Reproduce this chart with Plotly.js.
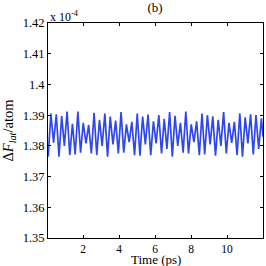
<!DOCTYPE html>
<html><head><meta charset="utf-8">
<script src="https://cdn.plot.ly/plotly-3.0.1.min.js"></script>
<style>html,body{margin:0;padding:0;background:#fff}#c{width:266px;height:266px}</style>
</head><body><div id="c"></div>
<script>
const time = [0.06,0.21,0.36,0.51,0.66,0.81,0.96,1.11,1.26,1.41,1.56,1.71,1.86,2.01,2.16,2.31,2.46,2.61,2.76,2.91,
3.06,3.21,3.36,3.51,3.66,3.81,3.96,4.11,4.26,4.41,4.56,4.71,4.86,5.01,5.16,5.31,5.46,5.61,5.76,5.91,
6.06,6.21,6.36,6.51,6.66,6.81,6.96,7.11,7.26,7.41,7.56,7.71,7.86,8.01,8.16,8.31,8.46,8.61,8.76,8.91,
9.06,9.21,9.36,9.51,9.66,9.81,9.96,10.11,10.26,10.41,10.56,10.71,10.86,11.01,11.16,11.31,11.46,11.61,11.76,11.91,12.0];
const dF = [1.3765,1.3905,1.3810,1.3903,1.3765,1.3897,1.3800,1.3912,1.3770,1.3872,1.3772,1.3912,1.3778,1.3875,1.3808,1.3868,1.3775,1.3908,1.3770,1.3885,
1.3800,1.3905,1.3765,1.3895,1.3805,1.3882,1.3775,1.3910,1.3778,1.3870,1.3812,1.3878,1.3770,1.3905,1.3768,1.3895,1.3805,1.3902,1.3770,1.3880,
1.3808,1.3900,1.3775,1.3888,1.3790,1.3910,1.3765,1.3898,1.3800,1.3875,1.3778,1.3912,1.3775,1.3870,1.3812,1.3880,1.3770,1.3905,1.3772,1.3900,
1.3805,1.3896,1.3768,1.3885,1.3800,1.3910,1.3775,1.3875,1.3810,1.3878,1.3770,1.3906,1.3765,1.3893,1.3808,1.3903,1.3772,1.3900,1.3790,1.3890,1.3830];
const xTicks = [2,4,6,8,10];
const yTicks = [1.35,1.36,1.37,1.38,1.39,1.4,1.41,1.42];
const yTickText = ["1.35","1.36","1.37","1.38","1.39","1.4","1.41","1.42"];
const font = "Liberation Serif, DejaVu Serif, serif";
Plotly.newPlot('c', [{
  x: time, y: dF, type: 'scatter', mode: 'lines',
  line: {color: '#2f47f2', width: 1.7}, hoverinfo: 'skip'
}], {
  width: 266, height: 266,
  margin: {l: 48, r: 3, t: 23, b: 28},
  paper_bgcolor: '#fff', plot_bgcolor: '#fff',
  showlegend: false,
  font: {family: font, size: 12.5, color: '#000'},
  title: {text: '(b)', x: 0.583, xanchor: 'center', y: 0.99, yanchor: 'top', font: {family: font, size: 13, color: '#000'}},
  xaxis: {range: [0.05, 12], tickvals: xTicks, ticks: 'inside', ticklen: 3, tickcolor: '#000',
    showline: true, mirror: 'ticks', linecolor: '#000', linewidth: 1, showgrid: false, zeroline: false,
    tickfont: {family: font, size: 11.5}},
  yaxis: {range: [1.35, 1.42], tickvals: yTicks, ticktext: yTickText, ticks: 'inside', ticklen: 3, tickcolor: '#000',
    showline: true, mirror: 'ticks', linecolor: '#000', linewidth: 1, showgrid: false, zeroline: false,
    tickfont: {family: font, size: 12.5}, title: {text: 'Δ<i>F</i><sub><i>lat</i></sub>/atom', standoff: 5, font: {family: font, size: 14.5}}},
  annotations: [
    {xref: 'paper', yref: 'paper', x: 0, y: 1, xanchor: 'left', yanchor: 'bottom',
     text: 'x 10<sup>-4</sup>', showarrow: false, font: {family: font, size: 12}, yshift: -3},
    {xref: 'paper', yref: 'paper', x: 0.5, y: 0, xanchor: 'center', yanchor: 'top',
     text: 'Time (ps)', showarrow: false, font: {family: font, size: 13}, yshift: -12}
  ]
}, {displayModeBar: false, staticPlot: true});
</script></body></html>
